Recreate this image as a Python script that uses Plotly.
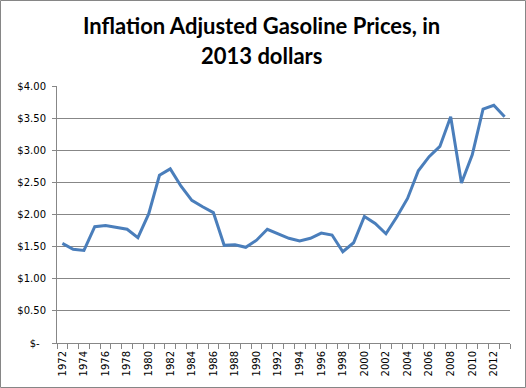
import plotly.graph_objects as go

years = list(range(1972, 2014))
prices = [1.55, 1.46, 1.44, 1.81, 1.83, 1.80, 1.77, 1.64, 2.01, 2.61,
          2.71, 2.44, 2.22, 2.12, 2.03, 1.52, 1.53, 1.49, 1.60, 1.77,
          1.70, 1.63, 1.59, 1.63, 1.71, 1.68, 1.42, 1.56, 1.97, 1.86,
          1.70, 1.96, 2.25, 2.68, 2.90, 3.06, 3.52, 2.49, 2.93, 3.64,
          3.70, 3.52]
label_years = years[::2]
y_tickvals = [0, 0.5, 1.0, 1.5, 2.0, 2.5, 3.0, 3.5, 4.0]
y_ticktext = ["$-\u00a0\u00a0", "$0.50", "$1.00", "$1.50", "$2.00",
              "$2.50", "$3.00", "$3.50", "$4.00"]
title_lines = ["Inflation Adjusted Gasoline Prices, in", "2013 dollars"]

W, H = 526, 388
L, R, T, B = 57, 16, 86, 45
pw, ph = W - L - R, H - T - B


def py(pix):
    return (H - B - pix) / ph


def px(pix):
    return (pix - L) / pw


fig = go.Figure()
fig.add_trace(go.Scatter(x=years, y=prices, mode="lines",
                         line=dict(color="#4A7EBB", width=3),
                         hoverinfo="skip"))

grid = "#878787"
fig.update_layout(
    width=W, height=H,
    margin=dict(l=L, r=R, t=T, b=B, autoexpand=False),
    paper_bgcolor="white", plot_bgcolor="white",
    showlegend=False,
    font=dict(family="DejaVu Sans", size=10, color="black"),
    xaxis=dict(range=[1971.5, 2013.5], tickmode="array",
               tickvals=label_years, ticktext=[str(y) for y in label_years],
               tickangle=-90, ticks="", showgrid=False, zeroline=False,
               ticklabelstandoff=3,
               showline=True, linecolor=grid, linewidth=1,
               minor=dict(tickmode="array",
                          tickvals=[y + 0.5 for y in range(1971, 2014)],
                          ticks="outside", ticklen=5, tickcolor=grid,
                          showgrid=False)),
    yaxis=dict(range=[0, 4], tickmode="array", tickvals=y_tickvals,
               ticktext=y_ticktext, ticks="outside", ticklen=4,
               ticklabelstandoff=4,
               tickcolor=grid, showgrid=True, gridcolor=grid, gridwidth=1,
               zeroline=False, showline=True, linecolor=grid, linewidth=1),
)

for line_text, center in zip(title_lines, [26, 55]):
    fig.add_annotation(text="<b>" + line_text + "</b>", xref="paper", yref="paper",
                       x=px(261), y=py(center), xanchor="center", yanchor="middle",
                       showarrow=False,
                       font=dict(family="Lato", size=22, color="black"))

fig.add_shape(type="rect", xref="paper", yref="paper",
              x0=px(0.5), x1=px(W - 0.5), y0=py(H - 0.5), y1=py(0.5),
              line=dict(color="#868686", width=1), layer="above")

fig.write_html("out.html", config={"displayModeBar": False},
               post_script="document.body.style.margin='0';document.body.style.padding='0';document.body.style.overflow='hidden';")
